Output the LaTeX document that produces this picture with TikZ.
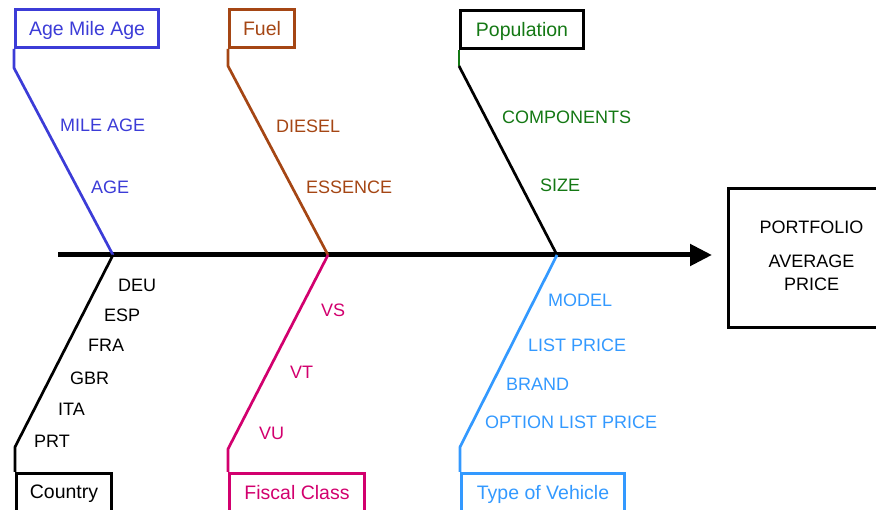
\documentclass[tikz,border=0pt]{standalone}
\usepackage{fontspec}
\setmainfont{Liberation Sans}
\usetikzlibrary{arrows.meta}
\definecolor{ageblue}{RGB}{60,60,215}
\definecolor{fuelbrown}{RGB}{165,70,20}
\definecolor{popgreen}{RGB}{20,120,20}
\definecolor{fiscalpink}{RGB}{210,0,110}
\definecolor{typeblue}{RGB}{51,153,255}
\begin{document}
\begin{tikzpicture}[x=1pt,y=-1pt,
  catbox/.style={draw, line width=3pt, minimum height=38pt, inner sep=0pt,
    anchor=north west, font=\fontsize{19.5}{22}\selectfont, text depth=0pt},
  lowbox/.style={catbox, minimum height=40pt, text depth=3pt},
  branch/.style={line width=2.7pt, line join=round},
  cause/.style={anchor=west, inner sep=0pt, font=\fontsize{18}{21}\selectfont}]
\useasboundingbox (0,0) rectangle (876,510);

% spine
\coordinate (axL) at (58,255);
\coordinate (jA) at (113,255);
\coordinate (jF) at (328,255);
\coordinate (jP) at (557,255);
\node[draw, line width=3pt, minimum width=166pt, minimum height=139pt, inner sep=0pt,
  anchor=north west, align=center, text depth=5pt, font=\fontsize{18}{22.5}\selectfont] (port) at (727,187)
  {PORTFOLIO\\[11.5pt]AVERAGE\\PRICE};
\draw[line width=5pt, -{Triangle[length=22pt,width=21pt]}, shorten >=15pt]
  (axL) -- (port.west |- axL);

% top boxes
\node[catbox, draw=ageblue, text=ageblue, minimum width=143pt] (age) at (14,8) {Age Mile Age};
\node[catbox, draw=fuelbrown, text=fuelbrown, minimum width=65pt] (fuel) at (228,8) {Fuel};
\node[catbox, draw=black, text=popgreen, minimum width=123pt] (pop) at (459,9) {Population};

\draw[branch, ageblue] (age.south west) -- ++(0,19) -- (jA);
\draw[branch, fuelbrown] (fuel.south west) -- ++(0,17) -- (jF);
\draw[branch, popgreen] (pop.south west) -- ++(0,16) coordinate (popbend);
\draw[branch, black] (popbend) -- (jP);

% bottom boxes
\node[lowbox, draw=black, text=black, minimum width=95pt] (country) at (15,472) {Country};
\node[lowbox, draw=fiscalpink, text=fiscalpink, minimum width=135pt] (fiscal) at (228,472) {Fiscal Class};
\node[lowbox, draw=typeblue, text=typeblue, minimum width=163pt] (vtype) at (460,472) {Type of Vehicle};

\draw[branch, black] (country.north west) -- ++(0,-25) -- (jA);
\draw[branch, fiscalpink] (fiscal.north west) -- ++(0,-23) -- (jF);
\draw[branch, typeblue] (vtype.north west) -- ++(0,-25) -- (jP);

% cause labels
\node[cause, text=ageblue] (mileage) at (60,125.5) {MILE AGE};
\node[cause, text=ageblue] (agel) at (91,187.5) {AGE};
\node[cause, text=fuelbrown] (diesel) at (276,126) {DIESEL};
\node[cause, text=fuelbrown] (essence) at (306,187) {ESSENCE};
\node[cause, text=popgreen] (comp) at (502,117.5) {COMPONENTS};
\node[cause, text=popgreen] (size) at (540,185) {SIZE};

\node[cause] (deu) at (118,285.5) {DEU};
\node[cause] (esp) at (104,315.5) {ESP};
\node[cause] (fra) at (88,345.5) {FRA};
\node[cause] (gbr) at (70,378) {GBR};
\node[cause] (ita) at (58,409.5) {ITA};
\node[cause] (prt) at (34,441.5) {PRT};

\node[cause, text=fiscalpink] (vs) at (321,310) {VS};
\node[cause, text=fiscalpink] (vt) at (290,372) {VT};
\node[cause, text=fiscalpink] (vu) at (259,433.5) {VU};

\node[cause, text=typeblue] (model) at (548,300) {MODEL};
\node[cause, text=typeblue] (listp) at (528,345.5) {LIST PRICE};
\node[cause, text=typeblue] (brand) at (506,384) {BRAND};
\node[cause, text=typeblue] (optp) at (485,422) {OPTION LIST PRICE};
\end{tikzpicture}
\end{document}
